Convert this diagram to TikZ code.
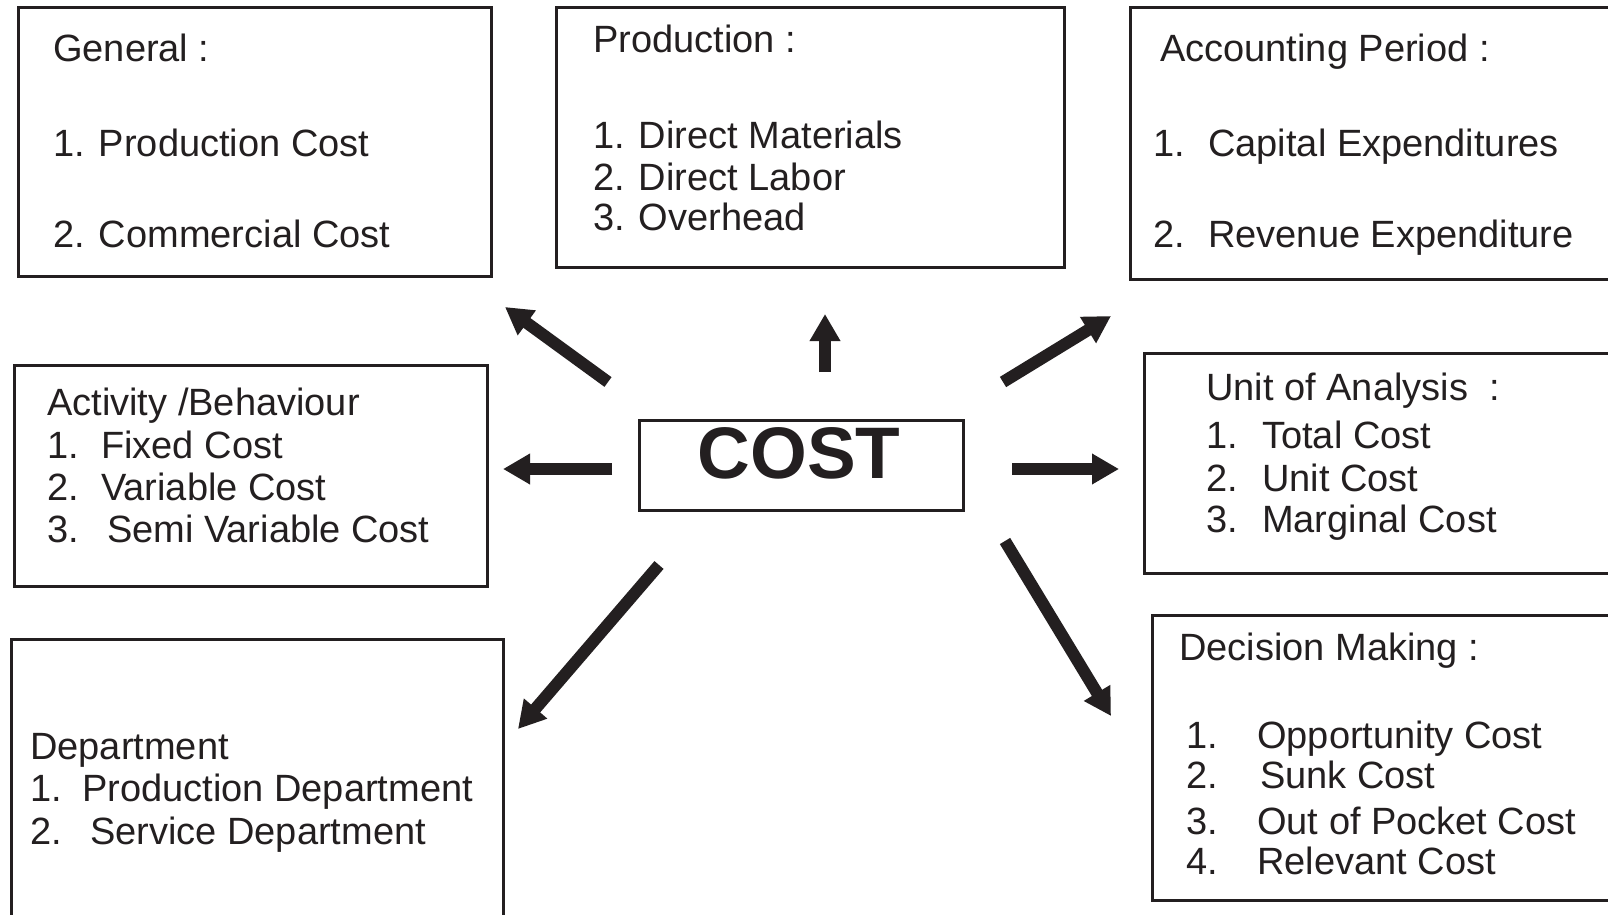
\documentclass[tikz,border=0pt]{standalone}
\usepackage{fontspec}
\setmainfont{Liberation Sans}
\usetikzlibrary{arrows.meta}
\definecolor{ink}{HTML}{231F20}
\tikzset{
  box/.style={draw=ink, line width=3.3pt, rectangle, anchor=north west, inner sep=0pt},
  txt/.style={inner sep=0pt, anchor=base west, text=ink, font=\fontsize{38}{44}\selectfont},
  bigtxt/.style={inner sep=0pt, anchor=base, text=ink, font=\fontsize{73}{80}\selectfont\bfseries},
  arr/.style={draw=ink, line width=12pt, -{Triangle[width=29pt,length=27pt]}}
}
\newcommand{\nb}[2]{\makebox[#1pt][l]{#2}}
\begin{document}
\begin{tikzpicture}[x=1pt,y=-1pt]
\useasboundingbox (0,0) rectangle (1608,915);
\clip (0,0) rectangle (1608,915);
\fill[white] (0,0) rectangle (1608,915);

% boxes
\node[box, minimum width=473pt, minimum height=269pt] (gen) at (17,6) {};
\node[box, minimum width=508pt, minimum height=260pt] (prod) at (555,6) {};
\node[box, minimum width=520pt, minimum height=272pt] (acc) at (1129,6) {};
\node[box, minimum width=473pt, minimum height=221pt] (act) at (13,364) {};
\node[box, minimum width=500pt, minimum height=220pt] (unit) at (1143,352) {};
\node[box, minimum width=500pt, minimum height=285pt] (dec) at (1151,614) {};
\node[box, minimum width=492pt, minimum height=320pt] (dep) at (10,638) {};
\node[box, minimum width=324pt, minimum height=90pt] (cost) at (638,419) {};

% texts
\node[bigtxt] (costt) at (799,478) {COST};

\node[txt] (g0) at (53,62) {General :};
\node[txt] (g1) at (53,156) {1. Production Cost};
\node[txt] (g2) at (53,247) {2. Commercial Cost};

\node[txt] (p0) at (593,53) {Production :};
\node[txt] (p1) at (593,149) {1. Direct Materials};
\node[txt] (p2) at (593,190) {2. Direct Labor};
\node[txt] (p3) at (593,230) {3. Overhead};

\node[txt] (a0) at (1160,62) {Accounting Period :};
\node[txt] (a1) at (1153,157) {\nb{55}{1.}Capital Expenditures};
\node[txt] (a2) at (1153,247) {\nb{55}{2.}Revenue Expenditure};

\node[txt] (b0) at (47,415) {Activity /Behaviour};
\node[txt] (b1) at (47,458) {\nb{54}{1.}Fixed Cost};
\node[txt] (b2) at (47,500) {\nb{54}{2.}Variable Cost};
\node[txt] (b3) at (47,542) {\nb{60}{3.}Semi Variable Cost};

\node[txt] (u0) at (1206,400) {Unit of Analysis \ :};
\node[txt] (u1) at (1206,448) {\nb{56}{1.}Total Cost};
\node[txt] (u2) at (1206,491) {\nb{56}{2.}Unit Cost};
\node[txt] (u3) at (1206,532) {\nb{56}{3.}Marginal Cost};

\node[txt] (d0) at (1179,660) {Decision Making :};
\node[txt] (d1) at (1186,748) {\nb{71}{1.}Opportunity Cost};
\node[txt] (d2) at (1186,788) {\nb{74}{2.}Sunk Cost};
\node[txt] (d3) at (1186,834) {\nb{71}{3.}Out of Pocket Cost};
\node[txt] (d4) at (1186,874) {\nb{71}{4.}Relevant Cost};

\node[txt] (e0) at (30,759) {Department};
\node[txt] (e1) at (30,801) {\nb{52}{1.}Production Department};
\node[txt] (e2) at (30,844) {\nb{60}{2.}Service Department};

% arrow end points
\coordinate (t1) at (608,382); \coordinate (h1) at (505,307);
\coordinate (t2) at (825,372); \coordinate (h2) at (825,314);
\coordinate (t3) at (1003,382); \coordinate (h3) at (1111,316);
\coordinate (t4) at (612,469); \coordinate (h4) at (503,469);
\coordinate (t5) at (1012,469); \coordinate (h5) at (1119,469);
\coordinate (t6) at (659,565); \coordinate (h6) at (518,729);
\coordinate (t7) at (1005,541); \coordinate (h7) at (1111,716);

\draw[arr] (t1) -- (h1);
\draw[arr] (t2) -- (h2);
\draw[arr] (t3) -- (h3);
\draw[arr] (t4) -- (h4);
\draw[arr] (t5) -- (h5);
\draw[arr] (t6) -- (h6);
\draw[arr] (t7) -- (h7);
\end{tikzpicture}
\end{document}
